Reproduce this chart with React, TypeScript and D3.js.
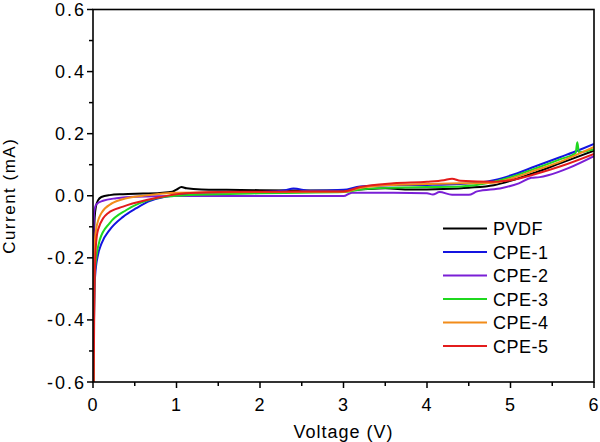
import React from "react";
import * as d3 from "d3";

const seriesNames = ["PVDF", "CPE-1", "CPE-2", "CPE-3", "CPE-4", "CPE-5"];
const seriesColors = ["#000000", "#1414e0", "#7a1fd6", "#1fd81f", "#f28c1a", "#e31c1c"];

const xTicks = [0, 1, 2, 3, 4, 5, 6];
const yTicks = [-0.6, -0.4, -0.2, 0.0, 0.2, 0.4, 0.6];

const pvdf: [number, number][] = [
  [0.005, -0.6], [0.008, -0.3], [0.012, -0.14], [0.02, -0.07], [0.035, -0.035], [0.06, -0.015],
  [0.1, -0.004], [0.2, 0.002], [0.36, 0.005], [0.6, 0.007], [0.8, 0.009], [0.95, 0.013],
  [1.0, 0.02], [1.06, 0.028], [1.12, 0.024], [1.3, 0.02], [1.6, 0.019], [2.0, 0.018],
  [2.5, 0.017], [3.0, 0.017], [3.2, 0.02], [3.5, 0.024], [3.8, 0.02], [4.2, 0.022],
  [4.5, 0.026], [4.8, 0.034], [5.0, 0.048], [5.3, 0.075], [5.6, 0.105], [6.0, 0.145],
];
const cpe1: [number, number][] = [
  [0.006, -0.6], [0.012, -0.4], [0.025, -0.26], [0.06, -0.19], [0.1, -0.155], [0.2, -0.11],
  [0.36, -0.068], [0.52, -0.04], [0.66, -0.019], [0.85, -0.004], [1.2, 0.005], [1.6, 0.009],
  [2.0, 0.012], [2.3, 0.018], [2.4, 0.023], [2.6, 0.016], [3.0, 0.019], [3.2, 0.03],
  [3.6, 0.034], [4.0, 0.035], [4.4, 0.038], [4.8, 0.05], [5.0, 0.065], [5.3, 0.095],
  [5.6, 0.125], [5.8, 0.145], [6.0, 0.167],
];
const cpe2: [number, number][] = [
  [0.003, -0.6], [0.004, -0.35], [0.005, -0.21], [0.008, -0.1], [0.015, -0.05], [0.04, -0.028],
  [0.12, -0.016], [0.28, -0.008], [0.5, -0.003], [1.0, -0.001], [2.0, -0.001], [3.0, -0.001],
  [3.1, 0.01], [3.6, 0.01], [4.0, 0.008], [4.07, 0.004], [4.15, 0.012], [4.3, 0.003],
  [4.5, 0.003], [4.6, 0.014], [4.9, 0.025], [5.1, 0.04], [5.25, 0.058], [5.35, 0.06],
  [5.45, 0.066], [5.7, 0.09], [6.0, 0.128],
];
const cpe3: [number, number][] = [
  [0.007, -0.6], [0.012, -0.4], [0.02, -0.25], [0.08, -0.143], [0.2, -0.088], [0.4, -0.046],
  [0.56, -0.024], [0.8, -0.006], [1.0, 0.0], [1.5, 0.005], [2.0, 0.008], [2.5, 0.01],
  [3.0, 0.012], [3.2, 0.02], [3.6, 0.026], [4.0, 0.028], [4.4, 0.03], [4.8, 0.045],
  [5.0, 0.06], [5.3, 0.088], [5.6, 0.118], [5.78, 0.138], [5.8, 0.172], [5.82, 0.14],
  [6.0, 0.15],
];
const cpe4: [number, number][] = [
  [0.006, -0.6], [0.012, -0.3], [0.02, -0.16], [0.036, -0.11], [0.1, -0.056], [0.23, -0.024],
  [0.4, -0.008], [0.6, 0.0], [1.0, 0.01], [2.0, 0.012], [3.0, 0.013], [3.2, 0.025],
  [3.6, 0.035], [4.0, 0.038], [4.4, 0.04], [4.8, 0.042], [5.0, 0.055], [5.3, 0.082],
  [5.6, 0.11], [6.0, 0.157],
];
const cpe5: [number, number][] = [
  [0.008, -0.6], [0.014, -0.4], [0.02, -0.27], [0.035, -0.16], [0.06, -0.11], [0.18, -0.056],
  [0.36, -0.035], [0.64, -0.014], [0.8, -0.005], [1.0, 0.005], [1.5, 0.012], [2.0, 0.013],
  [3.0, 0.014], [3.2, 0.028], [3.6, 0.04], [4.0, 0.045], [4.2, 0.05], [4.3, 0.055],
  [4.4, 0.048], [4.8, 0.045], [5.0, 0.05], [5.3, 0.07], [5.6, 0.095], [6.0, 0.135],
];

const seriesData = [pvdf, cpe1, cpe2, cpe3, cpe4, cpe5];

const W = 600;
const H = 442;
const left = 93;
const right = 594;
const top = 9.5;
const bottom = 382;

export default function App() {
  const x = d3.scaleLinear().domain([0, 6]).range([left, right]);
  const y = d3.scaleLinear().domain([-0.6, 0.6]).range([bottom, top]);
  const line = d3
    .line<[number, number]>()
    .x((d) => x(d[0]))
    .y((d) => y(d[1]))
    .curve(d3.curveMonotoneX);

  const xMinor = d3.range(0.5, 6, 1);
  const yMinor = d3.range(-0.5, 0.6, 0.2);
  const font = "Arial, 'Liberation Sans', Helvetica, sans-serif";

  return (
    <svg
      width={W}
      height={H}
      style={{ position: "absolute", left: 0, top: 0, background: "#fff" }}
      fontFamily={font}
    >
      <defs>
        <clipPath id="plotclip">
          <rect x={left} y={top} width={right - left} height={bottom - top} />
        </clipPath>
      </defs>
      <g clipPath="url(#plotclip)">
        {seriesData.map((s, i) => (
          <path key={i} d={line(s) || ""} fill="none" stroke={seriesColors[i]} strokeWidth={2} strokeLinejoin="round" />
        ))}
      </g>
      <rect x={left} y={top} width={right - left} height={bottom - top} fill="none" stroke="#000" strokeWidth={1.6} />
      {xTicks.map((t) => (
        <g key={"xt" + t}>
          <line x1={x(t)} x2={x(t)} y1={bottom} y2={bottom + 6} stroke="#000" strokeWidth={1.5} />
          <text x={x(t)} y={411} textAnchor="middle" fontSize={18} letterSpacing={1}>
            {t}
          </text>
        </g>
      ))}
      {xMinor.map((t) => (
        <line key={"xm" + t} x1={x(t)} x2={x(t)} y1={bottom} y2={bottom + 4} stroke="#000" strokeWidth={1.5} />
      ))}
      {yTicks.map((t) => (
        <g key={"yt" + t}>
          <line x1={left - 6} x2={left} y1={y(t)} y2={y(t)} stroke="#000" strokeWidth={1.5} />
          <text x={86} y={y(t) + 6.5} textAnchor="end" fontSize={18} letterSpacing={2}>
            {t.toFixed(1)}
          </text>
        </g>
      ))}
      {yMinor.map((t) => (
        <line key={"ym" + t} x1={left - 4} x2={left} y1={y(t)} y2={y(t)} stroke="#000" strokeWidth={1.5} />
      ))}
      <text x={(left + right) / 2} y={438} textAnchor="middle" fontSize={18} letterSpacing={1}>
        Voltage (V)
      </text>
      <text
        transform={`translate(15, ${(top + bottom) / 2}) rotate(-90)`}
        textAnchor="middle"
        fontSize={17}
        letterSpacing={1.5}
      >
        Current (mA)
      </text>
      {seriesNames.map((n, i) => {
        const ly = 228.5 + i * 23.5;
        return (
          <g key={n}>
            <line x1={443} x2={487} y1={ly} y2={ly} stroke={seriesColors[i]} strokeWidth={2} />
            <text x={493} y={ly + 6.5} fontSize={18} letterSpacing={0.5}>
              {n}
            </text>
          </g>
        );
      })}
    </svg>
  );
}
